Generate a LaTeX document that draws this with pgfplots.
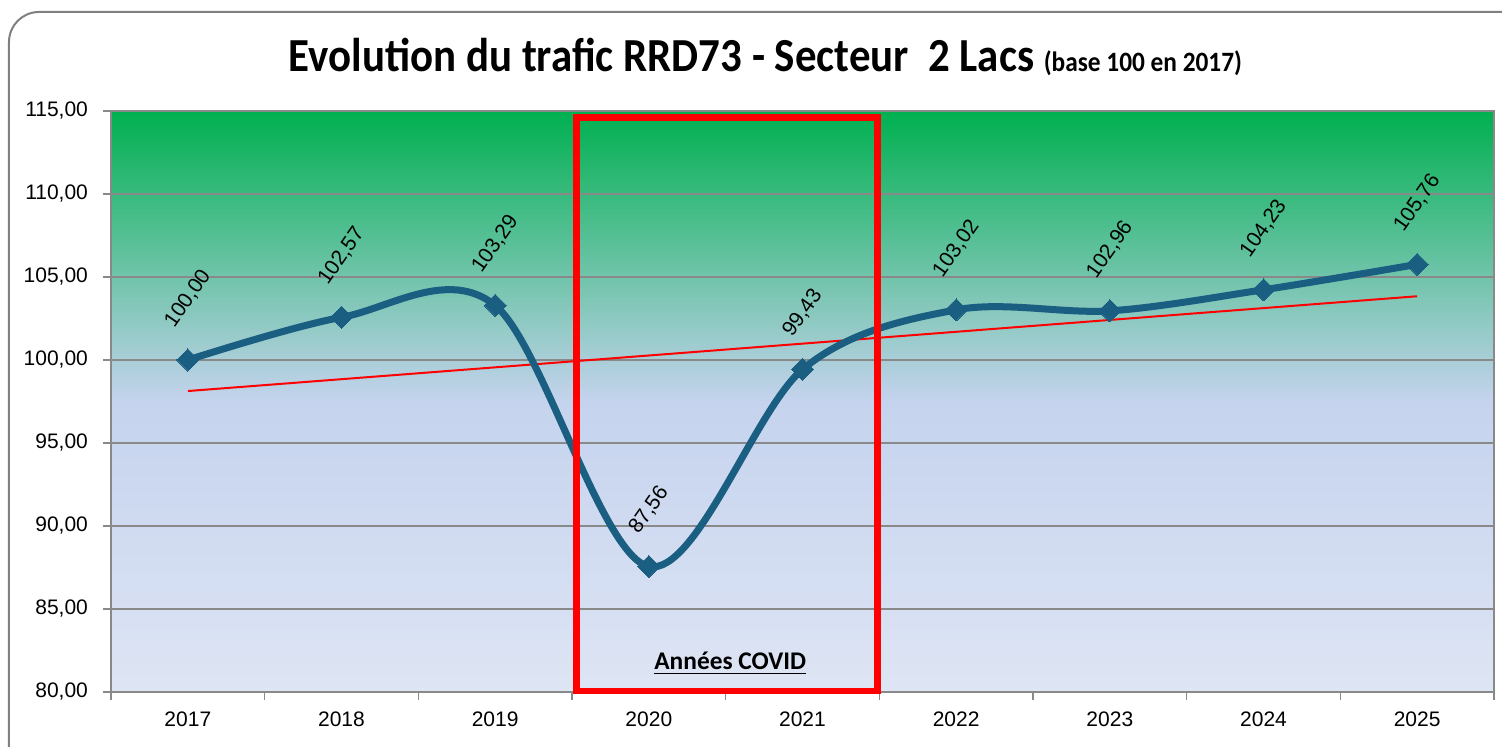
\documentclass[border=0pt]{standalone}
\usepackage{pgfplots}
\pgfplotsset{compat=1.18}
\usepackage{fontspec}
\setmainfont{Liberation Sans}
\newfontfamily\titlefont{Carlito}
\definecolor{gtop}{RGB}{0,176,80}
\definecolor{gmid}{RGB}{197,211,238}
\definecolor{gbot}{RGB}{222,229,244}
\definecolor{lineblue}{RGB}{26,94,130}
\definecolor{axgray}{RGB}{137,137,137}
\definecolor{framegray}{RGB}{128,128,128}
\pgfdeclareverticalshading{bgshade}{100bp}{color(0bp)=(gbot); color(25bp)=(gbot); color(50bp)=(gmid); color(75bp)=(gtop); color(100bp)=(gtop)}
\begin{document}
\begin{tikzpicture}
\path[use as bounding box] (-55.5pt,-27.5pt) rectangle (695.5pt,346pt);
\draw[rounded corners=15pt, line width=1pt, framegray] (-51pt,-60pt) rectangle (720pt,340pt);
\node[anchor=base] at (327.25pt,310pt) {\resizebox{476.5pt}{\height}{\titlefont\bfseries\fontsize{23.7}{26}\selectfont Evolution du trafic RRD73 - Secteur~ 2 Lacs {\fontsize{14}{16}\selectfont (base 100 en 2017)}}};
\begin{axis}[
  at={(0pt,0pt)}, anchor=south west,
  scale only axis, width=691.5pt, height=290.5pt,
  xmin=-0.5, xmax=8.5, ymin=80, ymax=115,
  clip=false,
  axis background/.style={shading=bgshade},
  ytick={80,85,...,115},
  xtick={-0.5,0.5,1.5,2.5,3.5,4.5,5.5,6.5,7.5,8.5},
  x tick label as interval,
  xticklabels={2017,2018,2019,2020,2021,2022,2023,2024,2025},
  xtick pos=bottom, ytick pos=left,
  tick align=outside, major tick length=4pt,
  ymajorgrids,
  grid style={axgray, line width=0.75pt},
  axis line style={axgray, line width=0.75pt},
  tick style={axgray, line width=0.75pt},
  ticklabel style={font=\fontsize{10.5}{12}\selectfont, black},
  xticklabel style={yshift=-2.5pt},
  yticklabel style={xshift=-4pt, /pgf/number format/.cd, fixed, fixed zerofill, precision=2, use comma, assume math mode=true},
]
\addplot[red, line width=1pt] coordinates {(0,98.13) (8,103.84)};
\addplot[lineblue, line width=3.5pt, smooth, tension=0.55,
  mark=square*, mark size=3.9pt, mark options={rotate=45, line width=0pt, fill=lineblue},
  nodes near coords={\rotatebox{55}{\pgfmathprintnumber[fixed, fixed zerofill, precision=2, use comma, assume math mode=true]{\pgfplotspointmeta}}},
  every node near coord/.append style={anchor=south, inner sep=0pt, yshift=15pt, font=\fontsize{10.5}{12}\selectfont, black},
] coordinates {
(0,100.00) (1,102.57) (2,103.29) (3,87.56) (4,99.43) (5,103.02) (6,102.96) (7,104.23) (8,105.76)
};
\draw[red, line width=3.35pt] (axis cs:2.53,114.61) rectangle (axis cs:4.49,80.06);
\node[anchor=base, font=\titlefont\bfseries\fontsize{12.7}{14}\selectfont] at (axis cs:3.53,81.33) {\underline{Années COVID}};
\end{axis}
\end{tikzpicture}
\end{document}
